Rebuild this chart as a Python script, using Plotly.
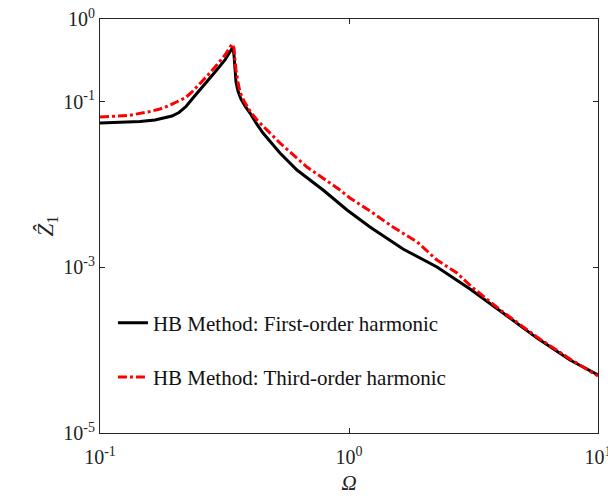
import plotly.graph_objects as go

# Data (log-log)
omega_first = [0.100, 0.1203, 0.1447, 0.1663, 0.1824, 0.1946, 0.2076, 0.2215, 0.2363, 0.2521,
               0.2715, 0.2897, 0.3177, 0.3297, 0.3420,
               0.3452, 0.3484, 0.3517, 0.3582, 0.3684, 0.3822, 0.4003, 0.4232, 0.4515,
               0.528, 0.618, 0.787, 0.982, 1.214, 1.648, 2.256, 3.062,
               4.155, 5.69, 7.72, 10.0]
z_first = [0.0555, 0.0562, 0.0578, 0.0603, 0.0637, 0.0674, 0.0743, 0.0877, 0.1111, 0.1388,
           0.1784, 0.229, 0.320, 0.3778, 0.459,
           0.3674, 0.2291, 0.1734, 0.1350, 0.1081, 0.0890, 0.0732, 0.0555, 0.0420,
           0.0241, 0.0150, 0.00861, 0.00494, 0.00308, 0.00167, 0.00101, 0.000548,
           0.000281, 0.000140, 7.62e-5, 5.01e-5]

omega_third = [0.100, 0.1296, 0.1559, 0.1742, 0.1875, 0.2019, 0.2195, 0.2342, 0.2521, 0.2690,
               0.2897, 0.3177, 0.3389,
               0.3452, 0.3484, 0.3517, 0.3582, 0.3649, 0.3787, 0.4003, 0.4271,
               0.528, 0.678, 0.920, 1.009, 1.214, 1.502, 1.876, 2.256, 2.715, 3.148,
               4.155, 5.69, 7.72, 10.0]
z_third = [0.0655, 0.0683, 0.0753, 0.0819, 0.0890, 0.0981, 0.1111, 0.1313, 0.1641, 0.2049,
           0.263, 0.367, 0.499,
           0.4464, 0.3198, 0.2421, 0.1734, 0.1313, 0.1023, 0.0774, 0.0603,
           0.0318, 0.0163, 0.00861, 0.00689, 0.00480, 0.00307, 0.00203, 0.00123, 0.000855, 0.000564,
           0.000289, 0.000144, 7.83e-5, 4.88e-5]

x_tickvals = [0.1, 1, 10]
x_ticktext = ["10<sup>-1</sup>", "10<sup>0</sup>", "10<sup>1</sup>"]
y_tickvals = [1, 0.1, 1e-3, 1e-5]
y_ticktext = ["10<sup>0</sup>", "10<sup>-1</sup>", "10<sup>-3</sup>", "10<sup>-5</sup>"]

FONT = "Liberation Serif"
AXC = "#262626"

fig = go.Figure()
fig.add_trace(go.Scatter(x=omega_first, y=z_first, mode="lines",
                         name="HB Method: First-order harmonic", legendgroup="a",
                         line=dict(color="black", width=3)))
fig.add_trace(go.Scatter(x=omega_third, y=z_third, mode="lines",
                         name="HB Method: Third-order harmonic", legendgroup="b",
                         line=dict(color="#ff0000", width=3, dash="dashdot")))

axis_common = dict(type="log", showgrid=False, zeroline=False, showline=True,
                   linecolor=AXC, linewidth=1, mirror="ticks", ticks="inside",
                   ticklen=5, tickcolor=AXC, automargin=False,
                   ticklabeloverflow="allow",
                   tickfont=dict(family=FONT, size=20, color="#222"))

fig.update_layout(
    width=608, height=500, template="none",
    paper_bgcolor="white", plot_bgcolor="white",
    margin=dict(l=100, r=10, t=19, b=67),
    font=dict(family=FONT, size=20, color="#222"),
    xaxis=dict(range=[-1, 1], tickvals=x_tickvals, ticktext=x_ticktext,
               ticklabelstandoff=6,
               title=dict(text="<i>Ω</i>", font=dict(family=FONT, size=21), standoff=8),
               **axis_common),
    yaxis=dict(range=[-5, 0], tickvals=y_tickvals, ticktext=y_ticktext,
               title=dict(text="<i>Ẑ</i><sub>1</sub>", font=dict(family=FONT, size=23), standoff=3),
               **axis_common),
    legend=dict(x=0.026, y=0.315, xanchor="left", yanchor="top",
                bgcolor="rgba(0,0,0,0)", borderwidth=0, tracegroupgap=24,
                font=dict(family=FONT, size=21, color="#111")),
    showlegend=True,
)

fig.write_html("out.html", config={"displayModeBar": False},
               post_script="document.body.style.margin='0';")
